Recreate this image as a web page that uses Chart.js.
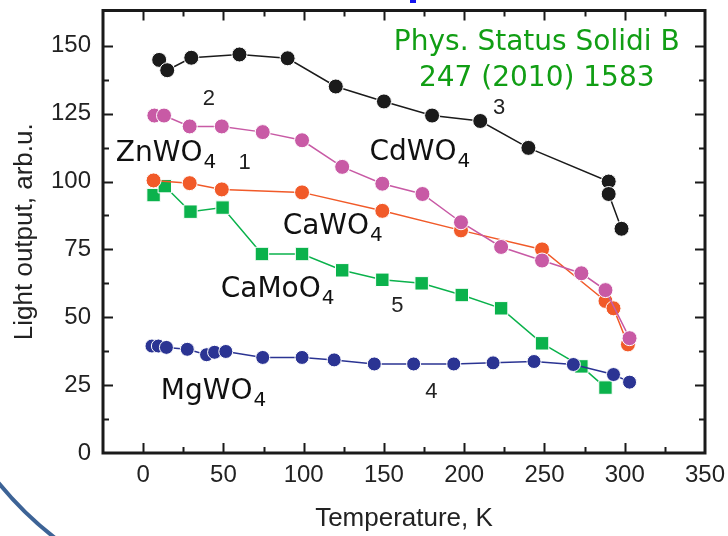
<!DOCTYPE html>
<html>
<head>
<meta charset="utf-8">
<script src="https://cdn.jsdelivr.net/npm/chart.js@4.4.1/dist/chart.umd.min.js"></script>
<style>
  html, body { margin: 0; padding: 0; background: #fff; }
  #wrap { width: 728px; height: 536px; }
</style>
</head>
<body>
<div id="wrap"><canvas id="lightChart" width="728" height="536"></canvas></div>
<script>
// temperature (K) and light output (arb.u.) for each crystal
const cdT = [10, 15, 30, 60, 90, 120, 150, 180, 210, 240, 290, 290, 298];
const cdL = [144.8, 141, 145.6, 146.8, 145.4, 135, 129.5, 124.3, 122.3, 112.4, 100, 95.4, 82.6];

const znT = [7, 13, 29, 49, 74.5, 99, 124, 149, 174, 198, 223, 248.5, 273, 288, 303];
const znL = [124.3, 124.3, 120.3, 120.3, 118.2, 115.2, 105.4, 99.2, 95.4, 85, 75.9, 70.9, 66.2, 60, 42.3];

const caT = [6.5, 29, 49, 99, 149, 198, 248.5, 288, 293, 302];
const caL = [100.4, 99.4, 97.1, 96, 89.2, 82, 75, 56, 53.3, 40];

const moT = [6.5, 13.5, 29.5, 49.5, 74, 99, 124, 149, 173.5, 198.5, 223, 248.5, 273, 288];
const moL = [95, 98.3, 88.9, 90.4, 73.3, 73.3, 67.3, 63.8, 62.5, 58.2, 53.3, 40.4, 31.9, 24.1];

const mgT = [5.5, 9.5, 14.5, 27.5, 39.5, 44.5, 51.5, 74.5, 99, 119, 144, 168.5, 193.5, 218, 243.5, 268, 293, 303];
const mgL = [39.4, 39.4, 38.9, 38.2, 36.2, 37.1, 37.4, 35.2, 35.2, 34.3, 32.8, 32.8, 32.8, 33.2, 33.7, 32.6, 28.9, 26.1];

const xTicks = [0, 50, 100, 150, 200, 250, 300, 350];
const xMinor = [-25, 25, 75, 125, 175, 225, 275, 325];
const yTicks = [0, 25, 50, 75, 100, 125, 150];
const yMinor = [12.5, 37.5, 62.5, 87.5, 112.5, 137.5];

const pts = (xs, ys) => xs.map((x, i) => ({ x: x, y: ys[i] }));

// text placed on the plot, in data units (x = left or centre, y = baseline)
const labels = [
  { text: "ZnWO", sub: "4", x: -17, y: 107.7 },
  { text: "CdWO", sub: "4", x: 141, y: 108.1 },
  { text: "CaWO", sub: "4", x: 86.9, y: 80.6 },
  { text: "CaMoO", sub: "4", x: 48.3, y: 57.6 },
  { text: "MgWO", sub: "4", x: 11, y: 19.9 },
];
const numbers = [
  { text: "1", x: 63.2, y: 104.5 },
  { text: "2", x: 40.9, y: 128.2 },
  { text: "3", x: 221.8, y: 124.9 },
  { text: "4", x: 179.5, y: 20.2 },
  { text: "5", x: 158.4, y: 52.1 },
];
const journal = [
  { text: "Phys. Status Solidi B", x: 245.2, y: 148.4 },
  { text: "247 (2010) 1583", x: 245.2, y: 135.2 },
];

function series(data, color, style, r) {
  return {
    data: data,
    showLine: true,
    borderColor: color,
    borderWidth: 1.5,
    backgroundColor: color,
    pointBackgroundColor: color,
    pointBorderColor: "#fff",
    pointBorderWidth: 1,
    pointStyle: style,
    pointRadius: r,
    pointHoverRadius: r,
  };
}

const framePlugin = {
  id: "frame",
  beforeDraw(chart) {
    const ctx = chart.ctx;
    ctx.save();
    // decorative slide leftovers
    ctx.strokeStyle = "#3d6396";
    ctx.lineWidth = 4;
    ctx.beginPath();
    ctx.arc(262, 268, 340, Math.PI * 0.62, Math.PI * 0.95);
    ctx.stroke();
    ctx.fillStyle = "#1414f0";
    ctx.fillRect(410, 0, 6, 3);
    ctx.restore();
  },
  afterDraw(chart) {
    const { ctx, chartArea: a, scales } = chart;
    const sx = scales.x, sy = scales.y;
    ctx.save();
    ctx.strokeStyle = "#1a1a1a";
    ctx.lineWidth = 2;
    const tick = (vals, len) => {
      vals.forEach(v => {
        const px = Math.round(sx.getPixelForValue(v)) + 0.5;
        if (px > a.left + 1 && px < a.right - 1) {
          ctx.beginPath();
          ctx.moveTo(px, a.bottom); ctx.lineTo(px, a.bottom - len);
          ctx.moveTo(px, a.top); ctx.lineTo(px, a.top + len);
          ctx.stroke();
        }
      });
    };
    const ytick = (vals, len) => {
      vals.forEach(v => {
        const py = Math.round(sy.getPixelForValue(v)) + 0.5;
        if (py > a.top + 1 && py < a.bottom - 1) {
          ctx.beginPath();
          ctx.moveTo(a.left, py); ctx.lineTo(a.left + len, py);
          ctx.moveTo(a.right, py); ctx.lineTo(a.right - len, py);
          ctx.stroke();
        }
      });
    };
    tick(xTicks, 10); tick(xMinor, 6);
    ytick(yTicks, 10); ytick(yMinor, 6);
    ctx.lineWidth = 3;
    ctx.strokeRect(a.left, a.top, a.right - a.left, a.bottom - a.top);

    // labels
    ctx.fillStyle = "#111";
    ctx.textBaseline = "alphabetic";
    labels.forEach(l => {
      const px = sx.getPixelForValue(l.x), py = sy.getPixelForValue(l.y);
      ctx.font = "28px 'DejaVu Sans'";
      ctx.textAlign = "left";
      ctx.fillText(l.text, px, py);
      const w = ctx.measureText(l.text).width;
      ctx.font = "20px 'DejaVu Sans'";
      ctx.fillText(l.sub, px + w + 1, py + 7);
    });
    ctx.fillStyle = "#222";
    ctx.font = "22px 'Liberation Sans'";
    ctx.textAlign = "center";
    numbers.forEach(n => {
      ctx.fillText(n.text, sx.getPixelForValue(n.x), sy.getPixelForValue(n.y));
    });
    ctx.fillStyle = "#119e14";
    ctx.font = "28px 'DejaVu Sans'";
    journal.forEach(j => {
      ctx.fillText(j.text, sx.getPixelForValue(j.x), sy.getPixelForValue(j.y));
    });
    ctx.restore();
  },
};

const tickFont = { family: "'Liberation Sans', Arial, sans-serif", size: 24 };
const titleFont = { family: "'Liberation Sans', Arial, sans-serif", size: 26, lineHeight: 1.2 };

new Chart(document.getElementById("lightChart").getContext("2d"), {
  type: "scatter",
  data: {
    datasets: [
      series(pts(cdT, cdL), "#1b1b1b", "circle", 7.5),
      series(pts(znT, znL), "#c85aa5", "circle", 7.5),
      series(pts(caT, caL), "#f15a29", "circle", 7.5),
      series(pts(mgT, mgL), "#2b3493", "circle", 7),
      series(pts(moT, moL), "#0bb24c", "rect", 9.5),
    ],
  },
  options: {
    responsive: false,
    animation: false,
    events: [],
    layout: { padding: { top: 7, right: 23, left: 0, bottom: 0 } },
    plugins: {
      legend: { display: false },
      tooltip: { enabled: false },
    },
    scales: {
      x: {
        type: "linear",
        min: -25,
        max: 350,
        afterBuildTicks: s => { s.ticks = xTicks.map(v => ({ value: v })); },
        afterFit: s => { s.height = 83; s.paddingLeft = 0; s.paddingRight = 0; },
        grid: { display: false, drawTicks: false },
        border: { display: false },
        ticks: { font: tickFont, color: "#222", padding: 8, maxRotation: 0, autoSkip: false },
        title: { display: true, text: "Temperature, K", font: titleFont, color: "#222", padding: { top: 0, bottom: 2 } },
      },
      y: {
        type: "linear",
        min: 0,
        max: 163,
        afterBuildTicks: s => { s.ticks = yTicks.map(v => ({ value: v })); },
        afterFit: s => { s.width = 103; s.paddingTop = 0; s.paddingBottom = 0; },
        grid: { display: false, drawTicks: false },
        border: { display: false },
        ticks: { font: tickFont, color: "#222", padding: 12, autoSkip: false },
        title: { display: true, text: "Light output, arb.u.", font: titleFont, color: "#222", padding: { top: 9, bottom: 0 } },
      },
    },
  },
  plugins: [framePlugin],
});
</script>
</body>
</html>
